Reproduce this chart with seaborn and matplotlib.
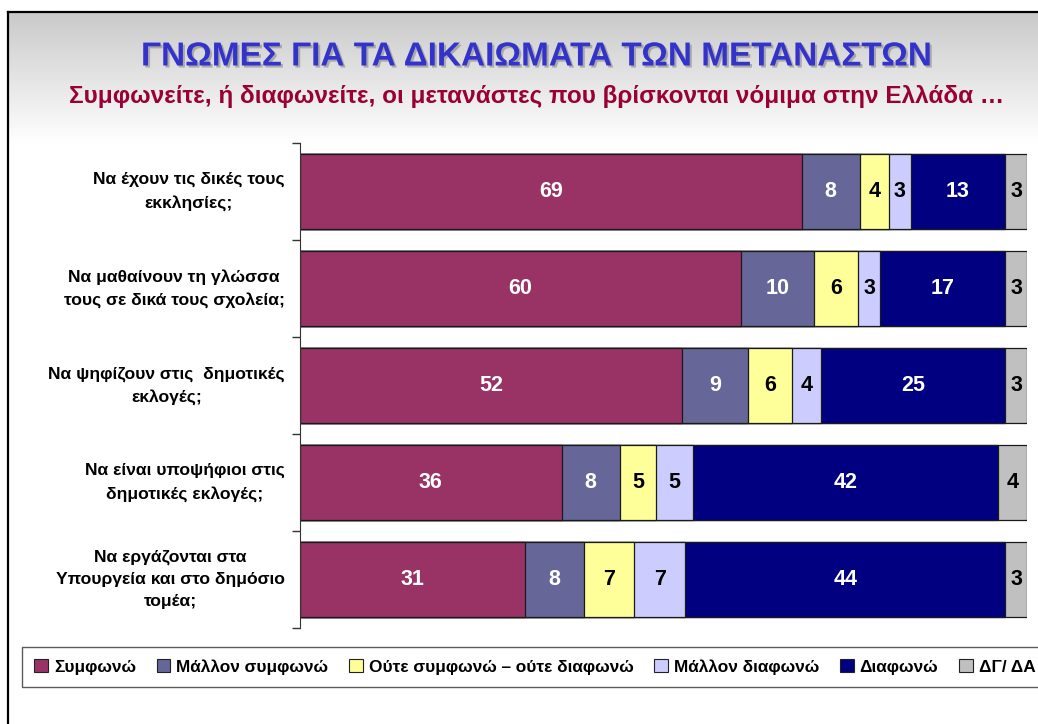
import numpy as np
import pandas as pd
import matplotlib
matplotlib.use("Agg")
import matplotlib.pyplot as plt
import matplotlib.patheffects as pe
from matplotlib.patches import Patch
from matplotlib.lines import Line2D
import seaborn as sns

plt.rcParams['font.family'] = ['Liberation Sans', 'DejaVu Sans']

# Data
questions = [
    "Να έχουν τις δικές τους\nεκκλησίες;",
    "Να μαθαίνουν τη γλώσσα\nτους σε δικά τους σχολεία;",
    "Να ψηφίζουν στις  δημοτικές\nεκλογές;",
    "Να είναι υποψήφιοι στις\nδημοτικές εκλογές;",
    "Να εργάζονται στα\nΥπουργεία και στο δημόσιο\nτομέα;",
]
answers = ["Συμφωνώ", "Μάλλον συμφωνώ", "Ούτε συμφωνώ – ούτε διαφωνώ",
           "Μάλλον διαφωνώ", "Διαφωνώ", "ΔΓ/ ΔΑ"]
agree = [69, 60, 52, 36, 31]
rather_agree = [8, 10, 9, 8, 8]
neither = [4, 6, 6, 5, 7]
rather_disagree = [3, 3, 4, 5, 7]
disagree = [13, 17, 25, 42, 44]
dk_na = [3, 3, 3, 4, 3]

colors = ["#993366", "#666699", "#FFFF99", "#CCCCFF", "#000080", "#C0C0C0"]
text_colors = ["white", "white", "black", "black", "white", "black"]

df = pd.DataFrame({
    "q": [f"q{i}" for i in range(len(questions))],
    answers[0]: agree, answers[1]: rather_agree, answers[2]: neither,
    answers[3]: rather_disagree, answers[4]: disagree, answers[5]: dk_na,
}).set_index("q")
# 100% stacked, like the original
share = df.div(df.sum(axis=1), axis=0) * 100
cum = share.cumsum(axis=1)

fig = plt.figure(figsize=(10.38, 7.24), dpi=100)

# background with grey-to-white gradient and black frame
bg = fig.add_axes([0, 0, 1, 1], zorder=-5)
bg.set_xlim(0, 1038)
bg.set_ylim(724, 0)
bg.axis("off")
grad = np.linspace(0.79, 1.0, 100).reshape(-1, 1)
bg.imshow(grad, cmap="gray", vmin=0, vmax=1, aspect="auto",
          extent=(9, 1038, 145, 13), interpolation="bicubic")
bg.add_line(Line2D([8, 1038], [12, 12], color="black", lw=1.6))
bg.add_line(Line2D([8, 8], [12, 724], color="black", lw=1.6))

ax = fig.add_axes([300 / 1038, 1 - 628 / 724, 727 / 1038, 485 / 724])
ax.patch.set_alpha(0)

for i in range(len(answers) - 1, -1, -1):
    sns.barplot(x=cum[answers[i]].values, y=cum.index, orient="h",
                color=colors[i], width=0.77, edgecolor="#1a1a1a",
                linewidth=0.9, ax=ax, saturation=1)

for i, a in enumerate(answers):
    for j in range(len(questions)):
        v = df[a].iloc[j]
        xc = cum[a].iloc[j] - share[a].iloc[j] / 2
        ax.text(xc, j, str(v), ha="center", va="center", fontsize=15.5,
                fontweight="bold", color=text_colors[i])

ax.set_xlim(0, 100)
ax.set_ylim(4.5, -0.5)
ax.set_xticks([])
ax.set_yticks(np.arange(-0.5, 5, 1))
ax.set_yticklabels([])
ax.tick_params(axis="y", length=6, width=1, color="#333333")
ax.set_xlabel("")
ax.set_ylabel("")
for s in ["top", "right", "bottom"]:
    ax.spines[s].set_visible(False)
ax.spines["left"].set_color("#333333")

# category labels: right-aligned block, lines centred inside it
for j, q in enumerate(questions):
    ax.text(-0.021, j, q, transform=ax.get_yaxis_transform(), ha="right",
            va="center", multialignment="center", fontsize=12.6,
            fontweight="bold", linespacing=1.6)

fig.text(537 / 1038, 1 - 57 / 724, "ΓΝΩΜΕΣ ΓΙΑ ΤΑ ΔΙΚΑΙΩΜΑΤΑ ΤΩΝ ΜΕΤΑΝΑΣΤΩΝ",
         ha="center", va="center", fontsize=24, fontweight="bold",
         color="#3333CC",
         path_effects=[pe.withSimplePatchShadow(offset=(1.5, -1.5),
                                                shadow_rgbFace="#888888",
                                                alpha=0.6)])
fig.text(537 / 1038, 1 - 97 / 724,
         "Συμφωνείτε, ή διαφωνείτε, οι μετανάστες που βρίσκονται νόμιμα στην Ελλάδα …",
         ha="center", va="center", fontsize=17.5, fontweight="bold",
         color="#990033")

handles = [Patch(facecolor=c, edgecolor="#222222", linewidth=0.8) for c in colors]
leg = fig.legend(handles, answers, loc="upper left",
                 bbox_to_anchor=(22 / 1038, 1 - 647 / 724), ncol=6,
                 frameon=True, fancybox=False, edgecolor="#333333",
                 prop={"weight": "bold", "size": 12.4}, handlelength=0.8,
                 handleheight=0.8, handletextpad=0.35, columnspacing=1.2,
                 borderpad=0.7, borderaxespad=0)
leg.get_frame().set_linewidth(1)
leg.get_frame().set_facecolor("white")

fig.savefig("out.png", dpi=100)
